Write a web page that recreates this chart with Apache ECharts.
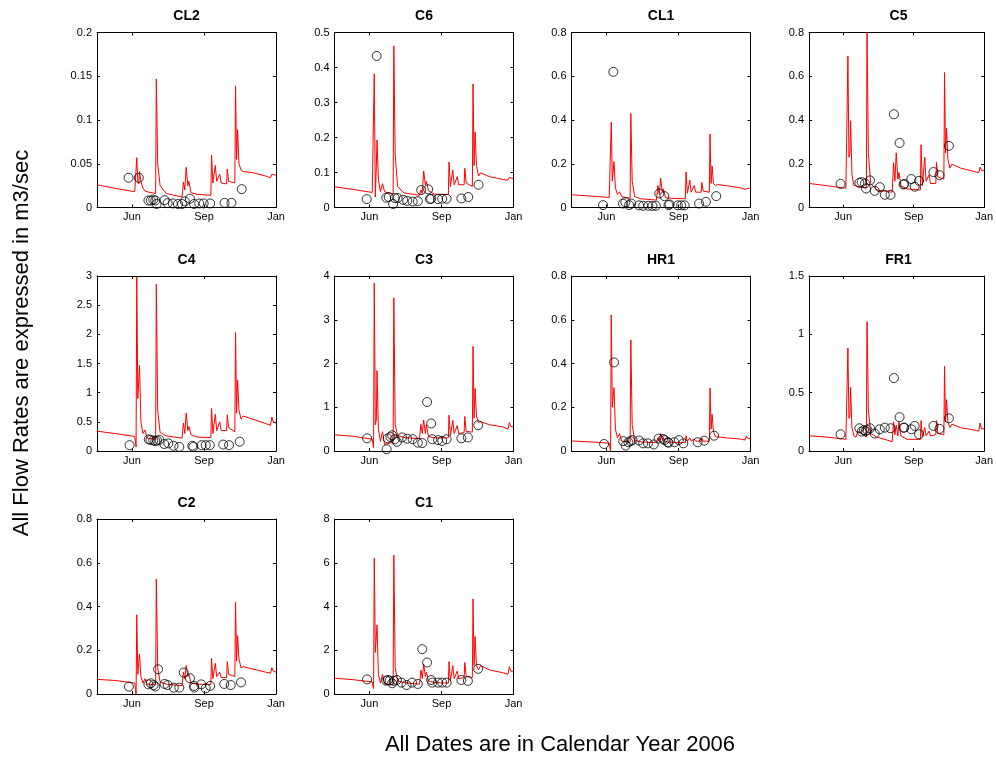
<!DOCTYPE html>
<html><head><meta charset="utf-8">
<script src="https://cdn.jsdelivr.net/npm/echarts@6/dist/echarts.min.js"></script>
<style>html,body{margin:0;padding:0;background:#fff}#chart{width:996px;height:757px}</style>
</head><body><div id="chart"></div>
<script>
// x values are day-of-year 2006 (Jan 1 = 0)
const lineDays = [104,130,159,161,162,163.5,165,166,168,171,174,177,189.5,190.5,192.5,196,205,228,230,232,234,236.5,238,241,250,270,271,273,276.5,278.5,283,285,293,294,296,305,306,307.5,309,311,314,317,330,350,357,359,361,365];
const monthTickDays = [155, 260, 365];
const monthTickLabels = ['Jun', 'Sep', 'Jan'];
const panelNames = ['CL2','C6','CL1','C5','C4','C3','HR1','FR1','C2','C1'];
const yMaxes = [0.2, 0.5, 0.8, 0.8, 3, 4, 0.8, 1.5, 0.8, 8];
const ySteps = [0.05, 0.1, 0.2, 0.2, 0.5, 1, 0.2, 0.5, 0.2, 2];

const cl2Flow = [0.026,0.022,0.018,0.017,0.057,0.030,0.027,0.041,0.030,0.022,0.019,0.018,0.016,0.147,0.050,0.025,0.016,0.012,0.029,0.020,0.046,0.025,0.030,0.017,0.015,0.014,0.060,0.028,0.048,0.030,0.038,0.028,0.027,0.044,0.030,0.028,0.139,0.055,0.089,0.050,0.043,0.041,0.040,0.036,0.034,0.038,0.037,0.037];
const c6Flow = [0.059,0.052,0.043,0.042,0.382,0.030,0.120,0.193,0.080,0.045,0.068,0.045,0.038,0.462,0.150,0.060,0.042,0.035,0.050,0.040,0.104,0.065,0.075,0.048,0.038,0.037,0.130,0.060,0.107,0.065,0.088,0.065,0.065,0.112,0.070,0.060,0.353,0.120,0.216,0.120,0.090,0.099,0.088,0.080,0.078,0.086,0.082,0.082];
const cl1Flow = [0.058,0.053,0.046,0.045,0.390,0.120,0.120,0.210,0.090,0.060,0.072,0.050,0.042,0.430,0.120,0.050,0.040,0.034,0.100,0.060,0.134,0.070,0.085,0.045,0.042,0.040,0.163,0.065,0.125,0.070,0.100,0.070,0.070,0.115,0.075,0.070,0.336,0.110,0.190,0.110,0.100,0.105,0.100,0.090,0.083,0.090,0.088,0.087];
const c5Flow = [0.110,0.100,0.088,0.080,0.693,0.230,0.250,0.397,0.150,0.100,0.100,0.095,0.090,0.800,0.250,0.110,0.080,0.070,0.205,0.120,0.250,0.130,0.160,0.100,0.085,0.080,0.287,0.100,0.230,0.120,0.150,0.110,0.110,0.206,0.140,0.130,0.617,0.250,0.362,0.220,0.180,0.198,0.180,0.165,0.160,0.185,0.170,0.168];
const c4Flow = [0.34,0.30,0.25,0.07,2.98,0.90,0.90,1.47,0.50,0.30,0.36,0.22,0.20,2.86,0.70,0.32,0.26,0.22,0.48,0.30,0.65,0.35,0.42,0.28,0.24,0.23,0.73,0.30,0.63,0.35,0.50,0.35,0.35,0.62,0.40,0.33,2.03,0.65,1.22,0.70,0.55,0.60,0.55,0.47,0.44,0.58,0.50,0.48];
const c3Flow = [0.37,0.34,0.27,0.08,3.84,0.60,0.70,1.84,0.50,0.22,0.44,0.15,0.20,3.50,0.60,0.36,0.31,0.28,0.61,0.40,0.71,0.40,0.60,0.33,0.30,0.30,0.82,0.35,0.70,0.40,0.58,0.40,0.42,0.79,0.45,0.43,2.39,0.75,1.43,0.80,0.65,0.67,0.60,0.55,0.50,0.65,0.56,0.55];
const hr1Flow = [0.046,0.042,0.036,0.000,0.622,0.200,0.200,0.290,0.100,0.060,0.080,0.045,0.040,0.508,0.120,0.050,0.042,0.038,0.060,0.045,0.080,0.050,0.060,0.042,0.040,0.038,0.070,0.045,0.060,0.045,0.055,0.045,0.045,0.060,0.045,0.045,0.288,0.100,0.168,0.090,0.065,0.065,0.060,0.055,0.050,0.068,0.058,0.056];
const fr1Flow = [0.13,0.12,0.10,0.09,0.883,0.28,0.30,0.545,0.20,0.13,0.12,0.17,0.12,1.11,0.35,0.15,0.12,0.08,0.25,0.14,0.22,0.13,0.25,0.13,0.10,0.10,0.26,0.12,0.20,0.13,0.17,0.13,0.14,0.26,0.15,0.14,0.725,0.25,0.44,0.25,0.20,0.23,0.20,0.18,0.17,0.24,0.19,0.19];
const c2Flow = [0.067,0.062,0.050,0.000,0.362,0.090,0.090,0.183,0.080,0.050,0.070,0.045,0.043,0.525,0.120,0.055,0.045,0.038,0.100,0.070,0.130,0.080,0.090,0.050,0.045,0.043,0.163,0.070,0.140,0.080,0.100,0.075,0.075,0.148,0.090,0.080,0.420,0.150,0.267,0.160,0.120,0.125,0.115,0.100,0.095,0.120,0.105,0.100];
const c1Flow = [0.72,0.66,0.55,0.25,6.21,1.90,1.90,3.16,0.90,0.50,0.90,0.45,0.43,6.35,1.20,0.60,0.52,0.45,1.10,0.70,1.37,0.80,1.00,0.60,0.52,0.50,1.48,0.60,1.30,0.70,1.05,0.70,0.75,1.44,0.80,0.75,4.35,1.30,2.63,1.30,1.10,1.30,1.10,0.97,0.90,1.25,1.05,1.00];

const cl2Obs = [[150,0.034],[165,0.034],[179,0.008],[182.5,0.008],[186,0.009],[189,0.008],[191,0.004],[202.5,0.0084],[207,0.005],[214.5,0.0046],[222,0.004],[228,0.004],[232,0.007],[239.5,0.01],[245.5,0.004],[253,0.0046],[259.5,0.0046],[269,0.0046],[290,0.0053],[300,0.0053],[315,0.021]];
const c6Obs = [[151,0.024],[165.5,0.433],[179.5,0.028],[183,0.030],[189.5,0.010],[192,0.027],[196,0.027],[204,0.022],[210,0.019],[218,0.017],[225.5,0.018],[230.5,0.050],[240.5,0.052],[243,0.024],[245,0.025],[255,0.024],[261,0.025],[267.5,0.025],[289,0.026],[299,0.030],[314,0.065]];
const cl1Obs = [[150,0.011],[165,0.62],[179,0.018],[182.5,0.024],[188,0.011],[191,0.018],[202.5,0.010],[208.5,0.008],[216,0.008],[222,0.007],[227,0.008],[232,0.064],[239.5,0.052],[245.5,0.011],[247,0.014],[259,0.010],[264,0.010],[269,0.010],[290,0.018],[300,0.026],[315,0.052]];
const c5Obs = [[151,0.108],[179,0.113],[182.5,0.116],[187.5,0.110],[189,0.087],[195,0.124],[202,0.076],[209.5,0.093],[217,0.058],[225.5,0.058],[230.5,0.426],[239,0.295],[245,0.105],[246,0.108],[256.5,0.130],[261.5,0.095],[268,0.122],[289.5,0.162],[298.5,0.148],[312.5,0.282]];
const c4Obs = [[151.5,0.10],[179.5,0.20],[182,0.19],[186,0.18],[189,0.17],[191.5,0.18],[195,0.19],[202,0.12],[208,0.13],[215.5,0.09],[224,0.07],[243,0.09],[244.5,0.07],[256.5,0.10],[262.5,0.10],[268.5,0.10],[288,0.11],[296.5,0.10],[312,0.16]];
const c3Obs = [[151.5,0.29],[180,0.04],[181.5,0.29],[185.5,0.32],[188,0.36],[192,0.27],[195,0.21],[202.5,0.31],[210,0.28],[218,0.27],[225.5,0.19],[232,0.18],[239,1.12],[245,0.63],[246.5,0.27],[255,0.25],[261,0.23],[267.5,0.27],[289,0.29],[298.5,0.31],[313.5,0.59]];
const hr1Obs = [[151.5,0.032],[166,0.405],[179.5,0.045],[183,0.025],[187,0.040],[190,0.045],[193,0.050],[202.5,0.048],[208.5,0.035],[215.5,0.035],[224,0.030],[231,0.057],[237.5,0.055],[240,0.050],[244.5,0.040],[245.5,0.038],[254,0.040],[260.5,0.050],[267,0.035],[288,0.040],[297.5,0.047],[312,0.070]];
const fr1Obs = [[151,0.143],[179,0.195],[182.5,0.166],[186,0.180],[188.5,0.170],[191,0.180],[195,0.195],[202,0.150],[209.5,0.186],[217,0.200],[225.5,0.195],[230.5,0.625],[239,0.290],[245,0.200],[246,0.200],[256.5,0.186],[261.5,0.215],[268,0.143],[289.5,0.215],[298.5,0.190],[312.5,0.280]];
const c2Obs = [[150.5,0.034],[179,0.044],[182.5,0.049],[186.5,0.041],[189,0.034],[193,0.113],[202.5,0.046],[207,0.041],[216,0.029],[224,0.029],[230.5,0.098],[239.5,0.072],[245.5,0.037],[246,0.029],[256,0.044],[262.5,0.026],[269,0.037],[289.5,0.046],[299,0.041],[314,0.053]];
const c1Obs = [[151.5,0.67],[179.5,0.61],[182,0.64],[184.5,0.61],[188,0.49],[190.5,0.60],[195,0.64],[201.5,0.52],[209,0.41],[217,0.52],[225.5,0.46],[232,2.05],[239,1.44],[245,0.64],[246.5,0.52],[255,0.52],[261,0.52],[267.5,0.52],[289,0.64],[298.5,0.60],[313.5,1.15]];

const flows = [cl2Flow, c6Flow, cl1Flow, c5Flow, c4Flow, c3Flow, hr1Flow, fr1Flow, c2Flow, c1Flow];
const observations = [cl2Obs, c6Obs, cl1Obs, c5Obs, c4Obs, c3Obs, hr1Obs, fr1Obs, c2Obs, c1Obs];

// layout
const FONT = "'Liberation Sans', Arial, Helvetica, sans-serif";
const colLeft = [97, 334.5, 571.5, 809];
const rowTop = [32.5, 276, 519];
const W = 179, H = 175;
const X_MIN = 104, X_MAX = 365;

const grid = [], xAxis = [], yAxis = [], series = [], title = [];
panelNames.forEach((name, i) => {
  const c = i % 4, r = Math.floor(i / 4);
  const left = colLeft[c], top = rowTop[r];
  grid.push({left: left, top: top, width: W, height: H, containLabel: false});
  const axLine = {show: true, onZero: false, lineStyle: {color: '#000', width: 1}};
  const xBase = {type: 'value', gridIndex: i, min: X_MIN, max: X_MAX,
    axisLine: axLine, splitLine: {show: false}};
  xAxis.push(Object.assign({}, xBase, {position: 'bottom',
    axisTick: {show: true, inside: true, length: 3, customValues: monthTickDays, lineStyle: {color: '#000'}},
    axisLabel: {show: true, customValues: monthTickDays, margin: 4, color: '#000', fontSize: 11, fontFamily: FONT,
      formatter: v => { const k = monthTickDays.indexOf(v); return k >= 0 ? monthTickLabels[k] : ''; }}}));
  xAxis.push(Object.assign({}, xBase, {position: 'top',
    axisTick: {show: true, inside: true, length: 3, customValues: monthTickDays, lineStyle: {color: '#000'}},
    axisLabel: {show: false}}));
  const yBase = {type: 'value', gridIndex: i, min: 0, max: yMaxes[i], interval: ySteps[i],
    axisLine: axLine, splitLine: {show: false}};
  yAxis.push(Object.assign({}, yBase, {position: 'left',
    axisTick: {show: true, inside: true, length: 3, lineStyle: {color: '#000'}},
    axisLabel: {show: true, margin: 5, color: '#000', fontSize: 11, fontFamily: FONT}}));
  yAxis.push(Object.assign({}, yBase, {position: 'right',
    axisTick: {show: true, inside: true, length: 3, lineStyle: {color: '#000'}},
    axisLabel: {show: false}}));
  series.push({type: 'line', xAxisIndex: 2 * i, yAxisIndex: 2 * i,
    data: lineDays.map((d, j) => [d, flows[i][j]]),
    showSymbol: false, symbol: 'none', lineStyle: {color: '#ff0000', width: 1}, z: 2});
  series.push({type: 'scatter', xAxisIndex: 2 * i, yAxisIndex: 2 * i,
    data: observations[i], symbol: 'circle', symbolSize: 9,
    itemStyle: {color: 'rgba(0,0,0,0)', borderColor: '#000', borderWidth: 1}, z: 3});
  title.push({text: name, left: left + W / 2, top: top - 23, textAlign: 'center', padding: 0,
    textStyle: {fontSize: 14, fontWeight: 'bold', color: '#000', fontFamily: FONT}});
});

const chart = echarts.init(document.getElementById('chart'), null, {renderer: 'canvas'});
chart.setOption({
  animation: false,
  backgroundColor: '#fff',
  textStyle: {fontFamily: FONT},
  title: title,
  grid: grid,
  xAxis: xAxis,
  yAxis: yAxis,
  series: series,
  graphic: [
    {type: 'text', x: 560, y: 745,
      style: {text: 'All Dates are in Calendar Year 2006', fill: '#000', font: '22px ' + FONT,
        align: 'center', verticalAlign: 'middle', textAlign: 'center', textVerticalAlign: 'middle'}},
    {type: 'text', x: 22, y: 343, rotation: Math.PI / 2,
      style: {text: 'All Flow Rates are expressed in m3/sec', fill: '#000', font: '22px ' + FONT,
        align: 'center', verticalAlign: 'middle', textAlign: 'center', textVerticalAlign: 'middle'}}
  ]
});
</script>
</body></html>
